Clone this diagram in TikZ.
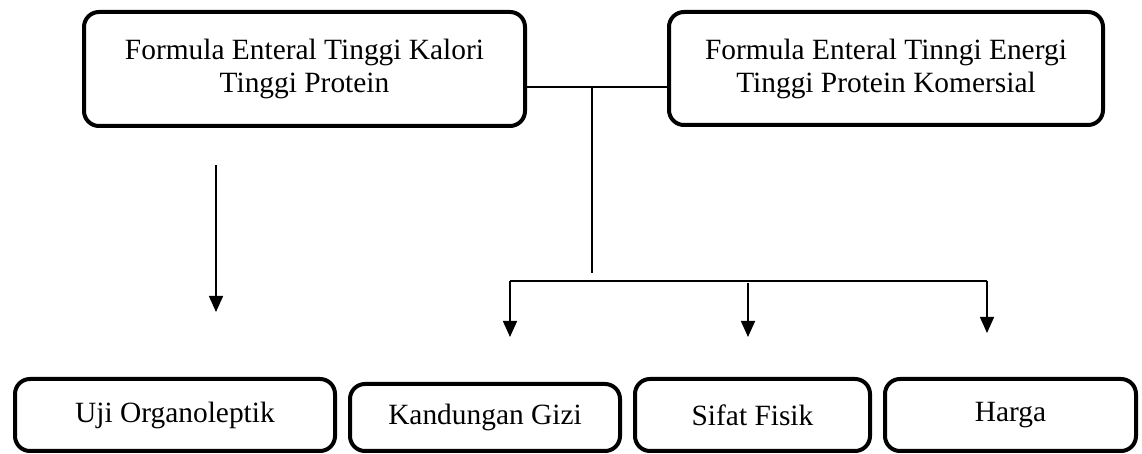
\documentclass[tikz,border=0pt]{standalone}
\usepackage{fontspec}
\setmainfont{Liberation Serif}
\usetikzlibrary{arrows.meta}

\tikzset{
	kotak/.style={draw, line width=2pt, rounded corners=7.5pt, align=center, inner sep=0pt,
		font=\fontsize{14.7}{16.5}\selectfont},
	garis/.style={line width=0.75pt},
	panah/.style={garis, -{Triangle[width=7pt,length=8pt]}}
}

\begin{document}
\begin{tikzpicture}[x=0.5pt,y=-0.5pt]
		\useasboundingbox (0,0) rectangle (1142,454);
		% kotak atas
		\node[kotak, minimum width=220.5pt, minimum height=57pt] (kalori) at (304.5,69)
		{Formula Enteral Tinggi Kalori\\Tinggi Protein};
		\node[kotak, minimum width=217pt, minimum height=56.5pt] (komersial) at (886,68.5)
		{Formula Enteral Tinngi Energi\\Tinggi Protein Komersial};
		% kotak bawah
		\node[kotak, minimum width=160pt, minimum height=36pt] (uji) at (175,415) {Uji Organoleptik};
		\node[kotak, minimum width=135pt, minimum height=33.5pt] (gizi) at (485,417.5) {Kandungan Gizi};
		\node[kotak, minimum width=117.5pt, minimum height=36pt] (fisik) at (752.5,415) {Sifat Fisik};
		\node[kotak, minimum width=125.5pt, minimum height=36pt] (harga) at (1010.5,415) {Harga};
		% titik bantu
		\coordinate (cabang) at (592,87);
		\coordinate (cabangbawah) at (592,273);
		\coordinate (kiriatas) at (216,165);
		\coordinate (kiribawah) at (216,312);
		\coordinate (barkiri) at (510,281);
		\coordinate (bartengah) at (748,283);
		\coordinate (barkanan) at (987,281);
		% garis penghubung
		\draw[garis] (kalori.east |- cabang) -- (komersial.west |- cabang);
		\draw[garis] (cabang) -- (cabangbawah);
		\draw[garis] (barkiri) -- (barkanan);
		\draw[panah] (kiriatas) -- (kiribawah);
		\draw[panah] (barkiri) -- (510,337);
		\draw[panah] (bartengah) -- (748,337);
		\draw[panah] (barkanan) -- (987,333);
		\end{tikzpicture}
\end{document}
